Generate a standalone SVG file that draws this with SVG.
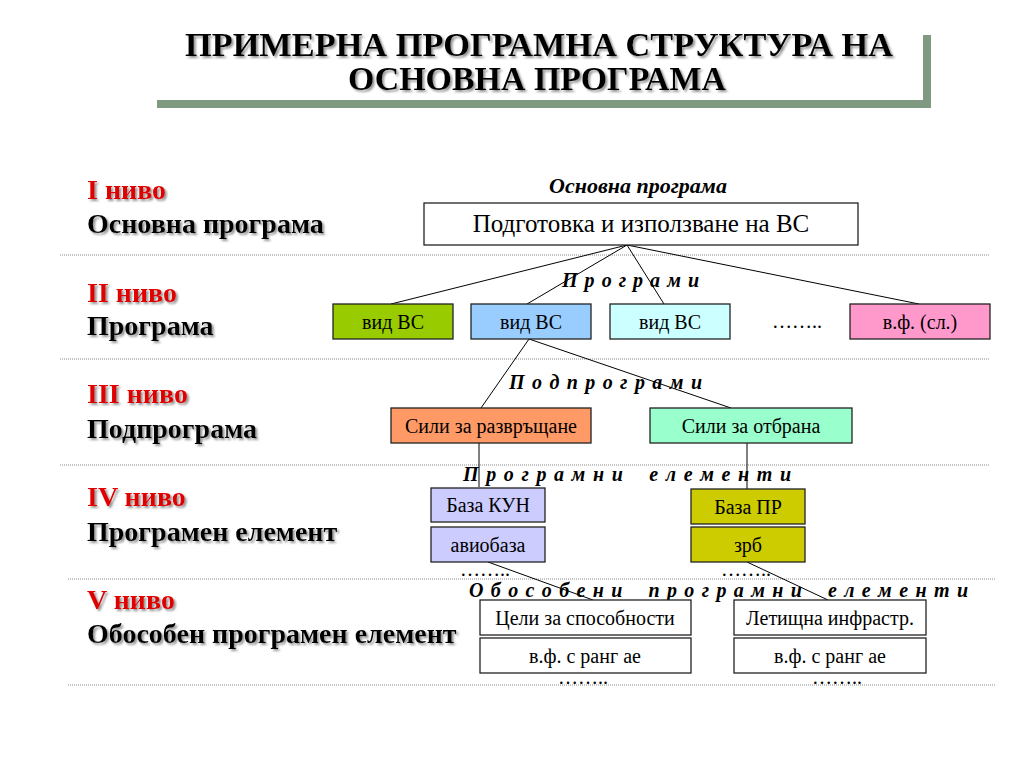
<svg xmlns="http://www.w3.org/2000/svg" width="1024" height="768" viewBox="0 0 1024 768">
<defs>
<filter id="sh" x="-5%" y="-20%" width="110%" height="150%">
<feDropShadow dx="2" dy="2" stdDeviation="0.8" flood-color="#7a7a7a" flood-opacity="0.8"/>
</filter>
<style>
.title{font-family:"Liberation Serif","Times New Roman",serif;font-weight:bold;font-size:33px;fill:#000;text-anchor:middle}
.lvl{font-family:"Liberation Serif","Times New Roman",serif;font-weight:bold;font-size:28px;fill:#e00000}
.lbl{font-family:"Liberation Serif","Times New Roman",serif;font-weight:bold;font-size:28px;fill:#000}
.bx{stroke:#222;stroke-width:1.3}
.bt{font-family:"Liberation Serif","Times New Roman",serif;font-size:20px;fill:#000;text-anchor:middle}
.it{font-family:"Liberation Serif","Times New Roman",serif;font-size:20px;font-weight:bold;font-style:italic;fill:#000;white-space:pre}
.dots{font-family:"Liberation Serif","Times New Roman",serif;font-size:20px;fill:#000}
.sep{stroke:#8a8a8a;stroke-width:1.2;stroke-dasharray:1 1;fill:none}
.con{stroke:#000;stroke-width:1;fill:none}
</style>
</defs>
<rect width="1024" height="768" fill="#fff"/>

<g id="title-frame" fill="#7f9a80">
<rect x="157" y="100" width="774" height="8"/>
<rect x="923" y="35" width="8" height="73"/>
</g>
<g id="title" filter="url(#sh)">
<text class="title" x="539" y="56" textLength="708" lengthAdjust="spacingAndGlyphs">ПРИМЕРНА ПРОГРАМНА СТРУКТУРА НА</text>
<text class="title" x="537" y="90" textLength="378" lengthAdjust="spacingAndGlyphs">ОСНОВНА ПРОГРАМА</text>
</g>

<g id="separators">
<line class="sep" x1="60" y1="255" x2="990" y2="255"/>
<line class="sep" x1="60" y1="359" x2="990" y2="359"/>
<line class="sep" x1="60" y1="465" x2="990" y2="465"/>
<line class="sep" x1="68" y1="579" x2="995" y2="579"/>
<line class="sep" x1="68" y1="685" x2="995" y2="685"/>
</g>

<g id="level-labels" filter="url(#sh)">
<text class="lvl" x="87" y="199">I ниво</text>
<text class="lbl" x="87" y="233">Основна програма</text>
<text class="lvl" x="87" y="302">II ниво</text>
<text class="lbl" x="87" y="335">Програма</text>
<text class="lvl" x="87" y="403">III ниво</text>
<text class="lbl" x="87" y="438">Подпрограма</text>
<text class="lvl" x="87" y="506">IV ниво</text>
<text class="lbl" x="87" y="541">Програмен елемент</text>
<text class="lvl" x="87" y="609">V ниво</text>
<text class="lbl" x="87" y="643">Обособен програмен елемент</text>
</g>

<g id="connectors">
<line class="con" x1="627" y1="245" x2="391" y2="304"/>
<line class="con" x1="627" y1="245" x2="527" y2="304"/>
<line class="con" x1="627" y1="245" x2="664" y2="304"/>
<line class="con" x1="627" y1="245" x2="919" y2="304"/>
<line class="con" x1="529" y1="339" x2="481" y2="408"/>
<line class="con" x1="529" y1="339" x2="731" y2="408"/>
<line class="con" x1="479" y1="443" x2="479" y2="487"/>
<line class="con" x1="747" y1="443" x2="747" y2="489"/>
<line class="con" x1="488" y1="562" x2="593" y2="600"/>
<line class="con" x1="747" y1="562" x2="828" y2="600"/>
</g>

<g id="group-labels">
<text class="it" x="638" y="193" text-anchor="middle" style="font-size:22px">Основна програма</text>
<text class="it" x="562" y="287" textLength="137" lengthAdjust="spacing">П р о г р а м и</text>
<text class="it" x="509" y="389" textLength="193" lengthAdjust="spacing">П о д п р о г р а м и</text>
<text class="it" x="463" y="481" textLength="328" lengthAdjust="spacing">П р о г р а м н и    е л е м е н т и</text>
<text class="it" x="469" y="597" textLength="499" lengthAdjust="spacing">О б о с о б е н и    п р о г р а м н и    е л е м е н т и</text>
</g>

<g id="node-main">
<rect class="bx" x="424" y="203" width="434" height="42" fill="#fff"/>
<text class="bt" x="641" y="232" style="font-size:25px">Подготовка и използване на ВС</text>
</g>

<g id="node-vid1">
<rect class="bx" x="333" y="304" width="120" height="35" fill="#99cc00"/>
<text class="bt" x="393" y="329">вид ВС</text>
</g>
<g id="node-vid2">
<rect class="bx" x="471" y="304" width="120" height="35" fill="#99ccff"/>
<text class="bt" x="531" y="329">вид ВС</text>
</g>
<g id="node-vid3">
<rect class="bx" x="610" y="304" width="120" height="35" fill="#ccffff"/>
<text class="bt" x="670" y="329">вид ВС</text>
</g>
<g id="dots-2">
<text class="dots" x="797" y="328" text-anchor="middle">……..</text>
</g>
<g id="node-vf">
<rect class="bx" x="850" y="304" width="140" height="35" fill="#ff99cc"/>
<text class="bt" x="920" y="329">в.ф. (сл.)</text>
</g>

<g id="node-razv">
<rect class="bx" x="391" y="408" width="200" height="35" fill="#ff9966"/>
<text class="bt" x="491" y="433">Сили за развръщане</text>
</g>
<g id="node-otbr">
<rect class="bx" x="650" y="408" width="202" height="35" fill="#99ffcc"/>
<text class="bt" x="751" y="433">Сили за отбрана</text>
</g>

<g id="node-kun">
<rect class="bx" x="431" y="488" width="114" height="34" fill="#ccccff"/>
<text class="bt" x="488" y="512">База КУН</text>
</g>
<g id="node-avio">
<rect class="bx" x="431" y="527" width="114" height="35" fill="#ccccff"/>
<text class="bt" x="488" y="552">авиобаза</text>
</g>
<g id="dots-4a">
<text class="dots" x="485" y="576" text-anchor="middle">……..</text>
</g>
<g id="node-pr">
<rect class="bx" x="691" y="489" width="114" height="35" fill="#cccc00"/>
<text class="bt" x="748" y="514">База ПР</text>
</g>
<g id="node-zrb">
<rect class="bx" x="691" y="527" width="114" height="35" fill="#cccc00"/>
<text class="bt" x="748" y="552">зрб</text>
</g>
<g id="dots-4b">
<text class="dots" x="746" y="576" text-anchor="middle">……..</text>
</g>

<g id="node-celi">
<rect class="bx" x="480" y="600" width="211" height="35" fill="#fff"/>
<text class="bt" x="585" y="625">Цели за способности</text>
</g>
<g id="node-vf5a">
<rect class="bx" x="480" y="638" width="211" height="35" fill="#fff"/>
<text class="bt" x="585" y="663">в.ф. с ранг ае</text>
</g>
<g id="dots-5a">
<text class="dots" x="583" y="684" text-anchor="middle">……..</text>
</g>
<g id="node-let">
<rect class="bx" x="734" y="600" width="192" height="35" fill="#fff"/>
<text class="bt" x="830" y="625">Летищна инфрастр.</text>
</g>
<g id="node-vf5b">
<rect class="bx" x="734" y="638" width="192" height="35" fill="#fff"/>
<text class="bt" x="830" y="663">в.ф. с ранг ае</text>
</g>
<g id="dots-5b">
<text class="dots" x="837" y="684" text-anchor="middle">……..</text>
</g>
</svg>
